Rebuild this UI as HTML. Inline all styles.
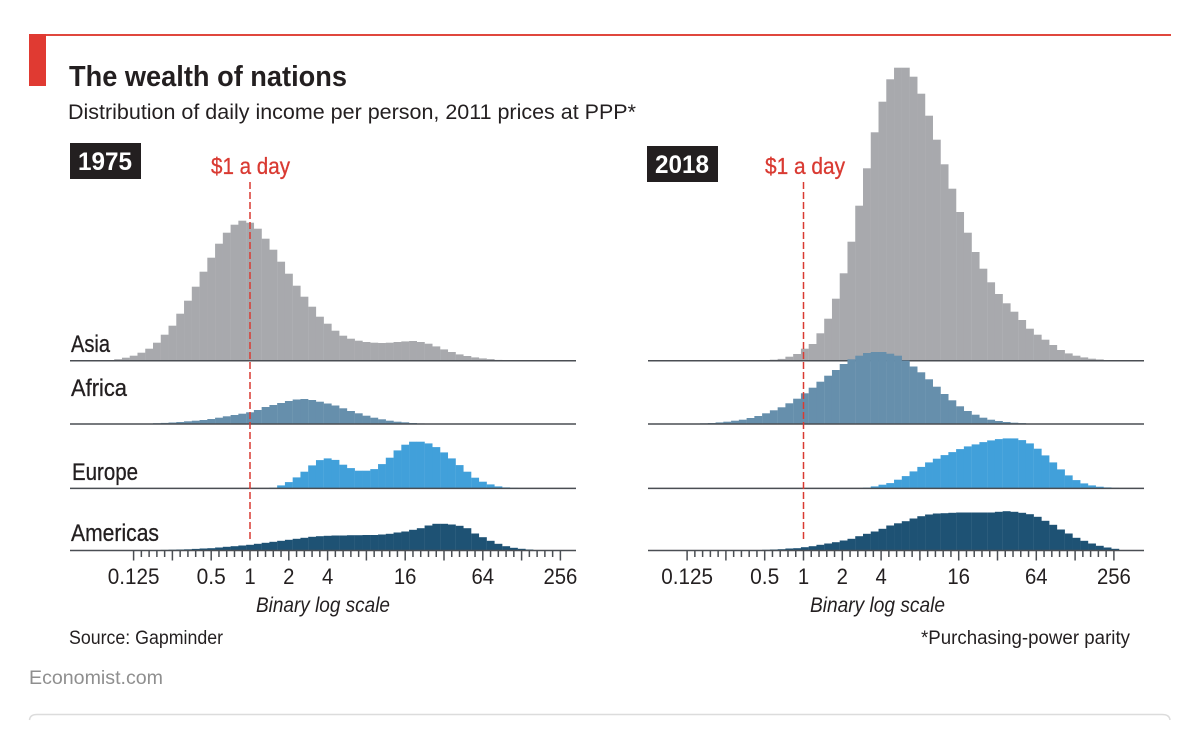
<!DOCTYPE html>
<html lang="en">
<head>
<meta charset="utf-8">
<title>The wealth of nations</title>
<style>
  html, body { margin: 0; padding: 0; background: #fff; }
  svg { display: block; }
  text { font-family: "Liberation Sans Narrow", "Liberation Sans", sans-serif; fill: #231f20; }
  .econ { font-family: "Liberation Sans", sans-serif; fill: #8f8f8f; }
  .label { stroke: #231f20; stroke-width: .3; }
</style>
</head>
<body>
<svg id="chart" width="1200" height="734" viewBox="0 0 1200 734" xmlns="http://www.w3.org/2000/svg">
  <rect x="0" y="0" width="1200" height="734" fill="#fff"/>
  <rect x="29" y="34" width="1142" height="2" fill="#e0473d"/>
  <rect x="29" y="34" width="17" height="52" fill="#e03a32"/>
  <text x="69" y="86" font-size="29" font-weight="700" textLength="278" lengthAdjust="spacingAndGlyphs">The wealth of nations</text>
  <text x="68" y="119" font-size="21" textLength="568" lengthAdjust="spacingAndGlyphs">Distribution of daily income per person, 2011 prices at PPP*</text>

  <g id="panel-left"></g>
  <g id="panel-right"></g>

  <rect x="70" y="143" width="71" height="36" fill="#231f20"/>
  <text x="78" y="170" font-size="25" font-weight="700" style="fill:#fff" textLength="54" lengthAdjust="spacingAndGlyphs">1975</text>
  <rect x="647" y="146" width="71" height="36" fill="#231f20"/>
  <text x="655" y="173" font-size="25" font-weight="700" style="fill:#fff" textLength="54" lengthAdjust="spacingAndGlyphs">2018</text>

  <text x="211" y="174" font-size="23" style="fill:#d93a32;stroke:#d93a32;stroke-width:.3" textLength="79" lengthAdjust="spacingAndGlyphs">$1 a day</text>
  <text x="765" y="174" font-size="23" style="fill:#d93a32;stroke:#d93a32;stroke-width:.3" textLength="80" lengthAdjust="spacingAndGlyphs">$1 a day</text>

  <text class="label" x="71" y="352" font-size="24" textLength="39" lengthAdjust="spacingAndGlyphs">Asia</text>
  <text class="label" x="71" y="396" font-size="24" textLength="56" lengthAdjust="spacingAndGlyphs">Africa</text>
  <text class="label" x="72" y="480" font-size="24" textLength="66" lengthAdjust="spacingAndGlyphs">Europe</text>
  <text class="label" x="71" y="541" font-size="24" textLength="88" lengthAdjust="spacingAndGlyphs">Americas</text>

  <text x="256" y="612" font-size="21" font-style="italic" textLength="134" lengthAdjust="spacingAndGlyphs">Binary log scale</text>
  <text x="810" y="612" font-size="21" font-style="italic" textLength="135" lengthAdjust="spacingAndGlyphs">Binary log scale</text>

  <text x="69" y="644" font-size="19" textLength="154" lengthAdjust="spacingAndGlyphs">Source: Gapminder</text>
  <text x="921" y="644" font-size="19" textLength="209" lengthAdjust="spacingAndGlyphs">*Purchasing-power parity</text>
  <text class="econ" x="29" y="684" font-size="19" textLength="134" lengthAdjust="spacingAndGlyphs">Economist.com</text>
  <path d="M29.5 720 Q30 714.5 37 714.5 L1162 714.5 Q1169.5 714.5 1170 720" fill="none" stroke="#dcdcdc" stroke-width="1.5"/>
</svg>

<script>
// Bins are fifths of an octave; the first value in each series is this bin.
const firstBin = -23;

const asia1975 = [
  0,0,0,.1,.3,.7,1.5,3,5,8,
  12,18,26,35,47,60,74,89,103,117,
  128,136,140,138,132,122,111,99,87,75,
  64,54,44,37,30,25,22,20,18.7,18,
  17.7,18,18.7,19.3,19.7,18.7,17,14.3,11.3,8.7,
  6.3,4.7,3.3,2.3,1.6,.8,.4,.2,0,0,
  0,0,0,0,0,0];
const africa1975 = [
  0,0,0,.1,.1,.2,.2,.2,.2,.3,
  .5,.8,1.1,1.5,2,2.7,3.3,4,5,6.3,
  7.7,9,10.3,11.7,14,17,19,21,23,24.5,
  25,24,22.3,20.5,18.5,15.7,13,10.7,8.3,6.3,
  4.7,3.3,2.3,1.7,1,.6,.3,.2,.1,.1,
  0,0,0,0,0,0,0,0,0,0,
  0,0,0,0,0,0];
const europe1975 = [
  0,0,0,0,0,0,0,0,0,0,
  0,0,0,0,0,0,0,0,0,0,
  0,0,0,0,.3,.3,.7,3,6.3,11,
  16.7,23,28.3,30,28.5,23.7,20.3,17.7,17.7,19.3,
  24.3,30.7,38,43.7,46.7,46.7,45,41.3,36,30,
  23.3,16.7,10.7,6.7,4,2,1,.5,.3,0,
  0,0,0,0,0,0];
const americas1975 = [
  0,0,0,0,0,0,0,0,0,0,
  .2,.4,.6,.8,1,1.2,1.6,2,2.3,3,
  3.7,4.3,5,5.7,6.7,7.7,8.7,9.7,10.7,11.7,
  12.7,13.7,14.3,14.7,15,15,15.3,15.3,15.5,15.5,
  16,16.7,18,19,20.7,22.3,25,26.7,26.7,26,
  24.7,22.3,17,13.3,9.7,6.7,4.3,2.7,1.7,1,
  .5,.3,0,0,0,0];

const asia2018 = [
  0,0,0,0,0,0,0,0,0,0,
  0,0,0,0,0,0,0,.3,.5,1,
  1.8,4,6.7,12,16.7,27.4,42,62,87.4,119,
  155,192.4,228.4,259,281.4,293,293,284,267,245,
  221,196.4,172,148.7,128,108.7,92,78.4,66.7,57.4,
  49,40.7,32,26,21,15.7,10.7,7.3,5,3.3,
  2,1.3,.7,.4,.2,0];
const africa2018 = [
  0,0,0,0,0,0,0,.2,.3,.4,
  .7,1,1.6,2.3,3.3,4.3,6,8,10.7,13.7,
  16.7,20.7,25.3,30.7,36.3,42.3,48.3,54,60,64.7,
  68.3,71,72,72,70.3,68.3,63.5,57.5,51.7,44.7,
  37.3,30,23.7,17.7,13,9.3,6.3,4.3,3,2,
  1.3,.9,.5,.3,.2,0,0,0,0,0,
  0,0,0,0,0,0];
const europe2018 = [
  0,0,0,0,0,0,0,0,0,0,
  0,0,0,0,0,0,0,0,0,0,
  0,0,0,0,0,0,0,0,0,.2,
  .3,.7,2,3.7,5.3,8.7,12.3,17,21.5,26,
  29.7,33.3,36.3,39.3,42,44,46.3,48,49.3,50,
  50,48.3,45,39.7,33,26,19,13,8.3,5,
  3,1.7,1,.5,.3,0];
const americas2018 = [
  0,0,0,0,0,0,0,0,0,0,
  0,0,0,0,0,0,.2,.4,.7,1,
  1.3,2,2.3,3.3,4.3,5.7,7,8.3,10,11.7,
  14.3,16.7,19,21.7,25,27.2,29.3,32,34.3,36,
  37,37.3,37.7,38,38,38,38,38,38.7,39.3,
  38.7,37.7,36.3,33.7,29.7,25.7,21,17,12.7,9.7,
  7,4.7,3,1.7,0,0];

const regionNames = ['asia', 'africa', 'europe', 'americas'];
const tickValues = [0.125, 0.5, 1, 2, 4, 16, 64, 256];

const NS = 'http://www.w3.org/2000/svg';
const PX_PER_OCTAVE = 38.8;
const BIN_WIDTH = PX_PER_OCTAVE / 5;
const regionColors = ['#a8a9ad', '#668fac', '#41a0da', '#1e5274'];
const regionBaselines = [360.7, 424, 488.4, 550.5];
const MINOR_LEN = 6.5;
const MAJOR_LEN = 10;

function make(tag, attrs) {
  const el = document.createElementNS(NS, tag);
  for (const k in attrs) el.setAttribute(k, attrs[k]);
  return el;
}

function drawPanel(group, year, originX, barShift, axisLeft, axisRight, seriesList) {
  const xScale = function (log2Value) { return originX + log2Value * PX_PER_OCTAVE; };
  const yScale = function (base, value) { return base - value; };

  seriesList.forEach(function (values, r) {
    const base = regionBaselines[r];

    values.forEach(function (value, i) {
      if (value <= 0) return;
      const center = xScale((firstBin + i) / 5) + barShift;
      const top = yScale(base, value);
      const bar = make('rect', {
        x: (center - BIN_WIDTH / 2).toFixed(2),
        y: top.toFixed(2),
        width: (BIN_WIDTH + 0.15).toFixed(2),
        height: (base - top).toFixed(2),
        fill: regionColors[r]
      });
      
      
      group.appendChild(bar);
    });

    const line = make('line', { x1: axisLeft, x2: axisRight, y1: base, y2: base, stroke: '#4a4e53', 'stroke-width': 1.5 });
    
    
    group.appendChild(line);
  });

  // Axis ticks: five per octave, longer at each octave
  const lowOct = Math.log2(tickValues[0]);
  const highOct = Math.log2(tickValues[tickValues.length - 1]);
  const axisBase = regionBaselines[3];
  for (let k = lowOct * 5; k <= highOct * 5; k++) {
    const x = xScale(k / 5);
    const tick = make('line', {
      x1: x, x2: x, y1: axisBase,
      y2: axisBase + (k % 5 === 0 ? MAJOR_LEN : MINOR_LEN),
      stroke: '#4a4e53', 'stroke-width': 1.5
    });
    
    
    group.appendChild(tick);
  }

  tickValues.forEach(function (value) {
    const label = String(value);
    const t = make('text', {
      x: xScale(Math.log2(value)),
      y: 584,
      'font-size': 22,
      'text-anchor': 'middle',
      textLength: label.replace('.', '').length * 11.3 + (label.indexOf('.') >= 0 ? 6.5 : 0),
      lengthAdjust: 'spacingAndGlyphs'
    });
    
    
    t.textContent = label;
    group.appendChild(t);
  });

  const ref = make('line', {
    x1: xScale(0), x2: xScale(0), y1: 182, y2: 541,
    stroke: '#d93a32', 'stroke-width': 1.5, 'stroke-dasharray': '7 3'
  });
  
  
  group.appendChild(ref);
}

drawPanel(document.getElementById('panel-left'), '1975', 250, 0, 70, 576,
  [asia1975, africa1975, europe1975, americas1975]);
drawPanel(document.getElementById('panel-right'), '2018', 803.5, 1.3, 648, 1144,
  [asia2018, africa2018, europe2018, americas2018]);
</script>
</body>
</html>
